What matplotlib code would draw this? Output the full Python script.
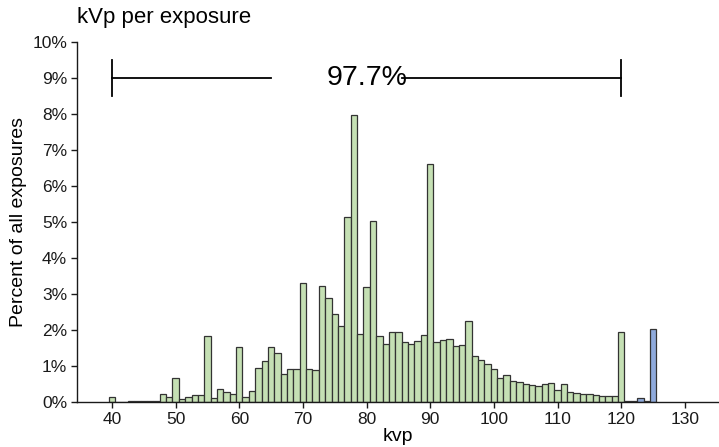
import matplotlib.pyplot as plt
import numpy as np
from matplotlib.ticker import PercentFormatter

plt.rcParams['font.family'] = ['Liberation Sans', 'DejaVu Sans']

# kVp bins (1 kVp wide) and percent of all exposures
kvp = list(range(40, 126))
percent = [0.13, 0.01, 0.01, 0.02, 0.02, 0.03, 0.03, 0.04, 0.21, 0.13,
           0.68, 0.09, 0.15, 0.20, 0.20, 1.82, 0.11, 0.35, 0.28, 0.22,
           1.53, 0.14, 0.31, 0.95, 1.13, 1.53, 1.36, 0.78, 0.91, 0.91,
           3.31, 0.91, 0.88, 3.22, 2.88, 2.45, 2.11, 5.15, 7.98, 1.88,
           3.19, 5.02, 1.83, 1.60, 1.95, 1.95, 1.66, 1.60, 1.69, 1.87,
           6.60, 1.67, 1.71, 1.76, 1.56, 1.59, 2.24, 1.27, 1.16, 1.06,
           0.91, 0.68, 0.76, 0.57, 0.55, 0.49, 0.47, 0.44, 0.50, 0.54,
           0.33, 0.49, 0.28, 0.25, 0.23, 0.21, 0.19, 0.18, 0.18, 0.17,
           1.95, 0.04, 0.04, 0.11, 0.03, 2.03]

range_lo = 40
range_hi = 120
range_label = "97.7%"
x_ticks = [40, 50, 60, 70, 80, 90, 100, 110, 120, 130]
y_ticks = [0, 1, 2, 3, 4, 5, 6, 7, 8, 9, 10]

green = "#c5e0b4"
blue = "#8faadc"

fig = plt.figure(figsize=(7.19, 4.47), dpi=100)
ax = fig.add_axes([0.107, 0.1007, 0.8916, 0.8053])

colors = [green if k <= range_hi else blue for k in kvp]
ax.bar(kvp, percent, width=1.0, color=colors, edgecolor="#333333", linewidth=0.9)

# range bracket with label in the middle
y_br = 9
mid = (range_lo + range_hi) / 2
ax.plot([range_lo, mid - 15], [y_br, y_br], color="black", lw=1.3)
ax.plot([mid + 5.5, range_hi], [y_br, y_br], color="black", lw=1.3)
ax.plot([range_lo, range_lo], [y_br - 0.5, y_br + 0.5], color="black", lw=1.3)
ax.plot([range_hi, range_hi], [y_br - 0.5, y_br + 0.5], color="black", lw=1.3)
ax.text(mid, y_br, range_label, ha="center", va="center", fontsize=20.5)

ax.set_xlim(34.5, 135.2)
ax.set_ylim(0, 10)
ax.set_xticks(x_ticks)
ax.set_yticks(y_ticks)
ax.yaxis.set_major_formatter(PercentFormatter(decimals=0))
ax.tick_params(labelsize=12.5, length=4, width=1, colors="#1a1a1a", pad=3)

for s in ["top", "right"]:
    ax.spines[s].set_visible(False)
for s in ["left", "bottom"]:
    ax.spines[s].set_linewidth(1.0)
    ax.spines[s].set_color("#1a1a1a")

ax.set_xlabel("kvp", fontsize=14, labelpad=1)
ax.set_ylabel("Percent of all exposures", fontsize=14, labelpad=4)
fig.text(0.107, 1 - 18 / 447, "kVp per exposure", fontsize=16, va="center", ha="left")

plt.savefig("out.png", dpi=100)
